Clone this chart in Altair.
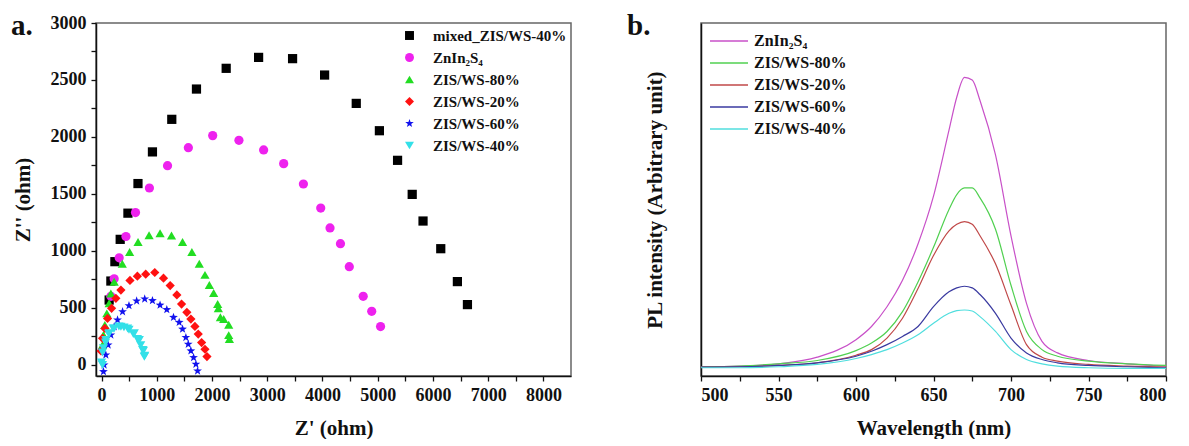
import altair as alt
import pandas as pd

# ---------------- panel a : Nyquist plots ----------------
names_a = ["mixed_ZIS/WS-40%", "ZnIn\u2082S\u2084", "ZIS/WS-80%", "ZIS/WS-20%", "ZIS/WS-60%", "ZIS/WS-40%"]
colors_a = ["#000000", "#ee22ee", "#22dd22", "#ff1111", "#1111ee", "#33e0e8"]
star = "M0,-1L0.235,-0.324L0.951,-0.309L0.38,0.124L0.588,0.809L0,0.4L-0.588,0.809L-0.38,0.124L-0.951,-0.309L-0.235,-0.324Z"
shapes_a = ["square", "circle", "triangle-up", "diamond", star, "triangle-down"]

mixed_x = [138, 169, 242, 338, 478, 660, 922, 1272, 1719, 2257, 2844, 3459, 4039, 4612, 5031, 5360, 5625, 5821, 6142, 6443, 6625]
mixed_y = [567, 734, 904, 1100, 1330, 1590, 1868, 2154, 2420, 2602, 2698, 2687, 2543, 2294, 2054, 1794, 1495, 1261, 1018, 729, 527]

zn_x = [170, 229, 320, 442, 615, 867, 1195, 1572, 2013, 2488, 2935, 3298, 3655, 3969, 4137, 4326, 4486, 4738, 4892, 5052]
zn_y = [600, 754, 938, 1125, 1335, 1551, 1747, 1905, 2011, 1970, 1885, 1765, 1586, 1375, 1200, 1062, 860, 600, 468, 334]

g80_x = [18, 35, 60, 96, 138, 169, 229, 376, 509, 661, 861, 1060, 1267, 1467, 1636, 1770, 1873, 1952, 2030, 2103, 2115, 2152, 2212, 2303, 2303, 2315]
g80_y = [173, 260, 348, 450, 538, 625, 728, 885, 988, 1077, 1136, 1153, 1133, 1077, 988, 885, 788, 700, 629, 532, 494, 415, 400, 350, 259, 224]

r20_x = [-10, 18, 60, 109, 182, 260, 351, 515, 649, 800, 964, 1122, 1243, 1364, 1449, 1545, 1618, 1691, 1751, 1812, 1873, 1909]
r20_y = [120, 231, 318, 406, 494, 582, 655, 739, 777, 794, 809, 759, 694, 612, 532, 459, 400, 335, 268, 194, 135, 71]

b60_x = [35, 47, 78, 120, 169, 229, 290, 381, 497, 636, 782, 922, 1060, 1182, 1303, 1406, 1467, 1527, 1570, 1618, 1667, 1709, 1739]
b60_y = [-61, -3, 85, 173, 260, 333, 392, 465, 518, 559, 577, 562, 523, 483, 415, 371, 312, 238, 179, 121, 62, 3, -56]

c40_x = [18, 0, 18, 35, 73, 78, 133, 138, 212, 229, 315, 351, 406, 472, 497, 576, 593, 649, 684, 709, 745, 758, 775, 782]
c40_y = [-3, 18, 106, 143, 194, 217, 268, 275, 318, 318, 335, 333, 327, 318, 306, 268, 275, 224, 217, 171, 129, 121, 70, 77]

series_a = [(mixed_x, mixed_y), (zn_x, zn_y), (g80_x, g80_y), (r20_x, r20_y), (b60_x, b60_y), (c40_x, c40_y)]
rows = []
for name, (xs, ys) in zip(names_a, series_a):
    for xv, yv in zip(xs, ys):
        rows.append({"series": name, "zr": xv, "zi": yv})
df_a = pd.DataFrame(rows)

# ---------------- panel b : PL spectra ----------------
wl = [500, 525, 550, 575, 600, 610, 620, 630, 640, 650, 660, 665, 670, 675, 680, 690, 700, 710, 720, 730, 750, 775, 800]
names_b = ["ZnIn\u2082S\u2084", "ZIS/WS-80%", "ZIS/WS-20%", "ZIS/WS-60%", "ZIS/WS-40%"]
colors_b = ["#c850c8", "#50d050", "#c04848", "#3a3aa0", "#50dede"]
pl_zn = [28, 30, 37, 57, 110, 150, 210, 290, 400, 545, 745, 845, 905, 897, 835, 670, 425, 220, 105, 70, 47, 37, 30]
pl_80 = [28, 30, 37, 47, 77, 100, 135, 195, 285, 390, 505, 550, 570, 570, 540, 445, 275, 135, 80, 60, 45, 37, 32]
pl_20 = [27, 28, 32, 40, 63, 80, 115, 175, 265, 365, 440, 460, 468, 460, 425, 340, 215, 95, 57, 45, 35, 30, 27]
pl_60 = [27, 28, 32, 40, 60, 75, 95, 120, 150, 210, 255, 267, 272, 267, 247, 190, 115, 70, 50, 40, 32, 28, 25]
pl_40 = [25, 25, 28, 35, 53, 65, 80, 100, 125, 160, 190, 198, 200, 197, 180, 135, 80, 50, 37, 30, 25, 23, 23]
series_b = [pl_zn, pl_80, pl_20, pl_60, pl_40]
rows = []
for name, vals in zip(names_b, series_b):
    for w, v in zip(wl, vals):
        rows.append({"series": name, "wl": w, "pl": v})
df_b = pd.DataFrame(rows)

panel_labels = ["a.", "b."]
FONT = "Liberation Serif"

def axis(**kw):
    base = dict(labelFont=FONT, labelFontWeight="bold", labelFontSize=18, labelColor="#111",
                titleFont=FONT, titleFontWeight="bold", titleFontSize=21, titleColor="#111",
                domainColor="#111", domainWidth=1.5, tickColor="#111", tickWidth=1.3,
                tickSize=5, labelPadding=5, grid=False)
    base.update(kw)
    return alt.Axis(**base)

leg_a = alt.Legend(title=None, orient="none", legendX=306, legendY=5,
                   labelFont=FONT, labelFontWeight="bold", labelFontSize=15, labelColor="#111",
                   symbolSize=80, symbolStrokeWidth=0, rowPadding=6, labelOffset=16, padding=0)

pts = alt.Chart(df_a).mark_point(filled=True, size=85, opacity=1).encode(
    x=alt.X("zr:Q", scale=alt.Scale(domain=[-100, 8500], nice=False, zero=False),
            axis=axis(title="Z' (ohm)", values=list(range(0, 8001, 500)), format="d",
                      labelExpr="datum.value % 1000 == 0 ? datum.label : ''",
                      titleY=52, titleBaseline="middle")),
    y=alt.Y("zi:Q", scale=alt.Scale(domain=[-100, 3000], nice=False, zero=False),
            axis=axis(title="Z'' (ohm)", values=list(range(0, 3001, 250)), format="d",
                      labelExpr="datum.value % 500 == 0 ? datum.label : ''",
                      titleX=-73, titleBaseline="middle")),
    color=alt.Color("series:N", scale=alt.Scale(domain=names_a, range=colors_a), legend=leg_a),
    shape=alt.Shape("series:N", scale=alt.Scale(domain=names_a, range=shapes_a), legend=leg_a),
)

lab_a = alt.Chart(pd.DataFrame({"t": [panel_labels[0]]})).mark_text(
    font=FONT, fontWeight="bold", fontSize=29, align="left", baseline="middle", color="#111"
).encode(x=alt.value(-85), y=alt.value(3), text="t:N")

left = alt.layer(pts, lab_a).properties(width=475, height=353)

leg_b = alt.Legend(title=None, orient="none", legendX=8, legendY=9,
                   labelFont=FONT, labelFontWeight="bold", labelFontSize=16, labelColor="#111",
                   symbolType="M-1,0H3.75", symbolSize=256, symbolStrokeWidth=1.6,
                   rowPadding=5, labelOffset=27, padding=0)

lines = alt.Chart(df_b).mark_line(strokeWidth=1.2, interpolate="monotone").encode(
    x=alt.X("wl:Q", scale=alt.Scale(domain=[500, 800], nice=False, zero=False),
            axis=axis(title="Wavelength (nm)", values=list(range(500, 801, 25)), format="d",
                      labelExpr="datum.value % 50 == 0 ? datum.label : ''",
                      titleY=52, titleBaseline="middle")),
    y=alt.Y("pl:Q", scale=alt.Scale(domain=[0, 1070], nice=False, zero=False),
            axis=axis(title="PL intensity (Arbitrary unit)", labels=False, ticks=False,
                      titleX=-46, titleBaseline="middle")),
    color=alt.Color("series:N", scale=alt.Scale(domain=names_b, range=colors_b), legend=leg_b),
)

lab_b = alt.Chart(pd.DataFrame({"t": [panel_labels[1]]})).mark_text(
    font=FONT, fontWeight="bold", fontSize=29, align="left", baseline="middle", color="#111"
).encode(x=alt.value(-74), y=alt.value(3), text="t:N")

right = alt.layer(lines, lab_b).properties(width=465, height=353)

chart = alt.hconcat(left, right, spacing=54).resolve_scale(color="independent", shape="independent").configure_view(
    stroke="#666", strokeWidth=1.5
).properties(padding={"left": 2, "top": 3, "right": 0, "bottom": 0})

chart.save("out.html", embed_options={"renderer": "svg", "actions": False})
